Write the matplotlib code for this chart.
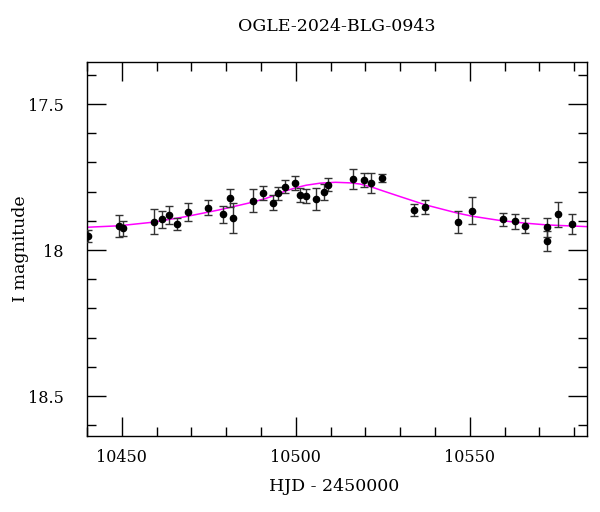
import matplotlib

matplotlib.use("Agg")
import matplotlib.pyplot as plt
from matplotlib.ticker import MultipleLocator, FuncFormatter

# photometry
hjd = [10440.3, 10449.1, 10450.4, 10459.4, 10461.6, 10463.7, 10465.9, 10469.0,
       10474.9, 10479.1, 10481.2, 10482.1, 10487.7, 10490.5, 10493.4, 10494.9,
       10496.8, 10499.7, 10501.1, 10503.0, 10505.9, 10508.0, 10509.3, 10516.4,
       10519.7, 10521.6, 10524.8, 10534.1, 10537.2, 10546.5, 10550.6, 10559.7,
       10562.9, 10566.0, 10572.3, 10572.3, 10575.4, 10579.5]
mag = [17.952, 17.918, 17.926, 17.903, 17.895, 17.880, 17.911, 17.869,
       17.855, 17.878, 17.821, 17.891, 17.831, 17.804, 17.838, 17.806,
       17.783, 17.770, 17.811, 17.815, 17.826, 17.800, 17.777, 17.757,
       17.760, 17.770, 17.754, 17.863, 17.852, 17.905, 17.865, 17.894,
       17.901, 17.917, 17.922, 17.968, 17.878, 17.911]
mag_err = [0.020, 0.038, 0.027, 0.043, 0.029, 0.031, 0.022, 0.031,
           0.026, 0.029, 0.031, 0.051, 0.039, 0.024, 0.025, 0.022,
           0.022, 0.023, 0.023, 0.023, 0.038, 0.027, 0.022, 0.034,
           0.023, 0.033, 0.014, 0.021, 0.024, 0.038, 0.045, 0.022,
           0.026, 0.026, 0.033, 0.034, 0.044, 0.034]

# model curve samples
model_t = [10440.0, 10449.1, 10458.7, 10468.2, 10477.8, 10486.9, 10491.2,
           10494.1, 10497.0, 10499.9, 10503.0, 10507.0, 10511.4, 10515.7,
           10518.5, 10522.0, 10525.2, 10530.0, 10537.2, 10546.3, 10550.6,
           10558.8, 10566.0, 10572.2, 10584.0]
model_mag = [17.922, 17.917, 17.905, 17.886, 17.863, 17.838, 17.824,
             17.812, 17.798, 17.787, 17.778, 17.771, 17.768, 17.770,
             17.774, 17.785, 17.798, 17.817, 17.845, 17.873, 17.884,
             17.899, 17.908, 17.914, 17.920]

plt.rcParams["font.family"] = ["DejaVu Serif"]
plt.rcParams["font.size"] = 11.5

fig = plt.figure(figsize=(6.0, 5.12), dpi=100)
ax = fig.add_axes([0.145, 0.1484, 0.8333, 0.7305])

ax.plot(model_t, model_mag, color="#ff00ff", lw=1.1, zorder=2)
ax.errorbar(hjd, mag, yerr=mag_err, fmt="o", color="black", ms=4.5,
            ecolor="#333333", elinewidth=1.0, capsize=3, capthick=1.0, zorder=3)

ax.set_xlim(10440, 10583.7)
ax.set_ylim(18.637, 17.356)

ax.xaxis.set_major_locator(MultipleLocator(50))
ax.xaxis.set_minor_locator(MultipleLocator(10))
ax.yaxis.set_major_locator(MultipleLocator(0.5))
ax.yaxis.set_minor_locator(MultipleLocator(0.1))
ax.yaxis.set_major_formatter(FuncFormatter(lambda v, p: f"{v:g}"))

ax.tick_params(which="both", direction="in", top=True, right=True, width=1.0)
ax.tick_params(which="major", length=14, labelsize=11.5)
ax.tick_params(axis="x", which="major", pad=9)
ax.tick_params(axis="y", which="major", pad=17)
ax.tick_params(which="minor", length=6.5)
for sp in ax.spines.values():
    sp.set_linewidth(1.0)

ax.set_xlabel("HJD - 2450000", fontsize=12.5)
ax.xaxis.set_label_coords(0.495, -0.112)
ax.set_ylabel("I magnitude", fontsize=12.5)
ax.yaxis.set_label_coords(-0.116, 0.5)

ax.set_title("OGLE-2024-BLG-0943", fontsize=12.5, pad=22)

fig.savefig("out.png", dpi=100)
